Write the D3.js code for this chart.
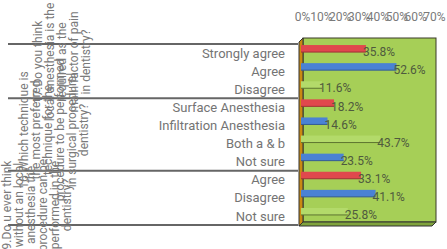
<!DOCTYPE html>
<html>
<head>
<meta charset="utf-8">
<script src="https://cdn.jsdelivr.net/npm/d3@7"></script>
<style>
    body{ margin:0; background:#fff; }
    svg{ display:block; font-family:Roboto, "Noto Sans", sans-serif; }
</style>
</head>
<body>
<svg width="447" height="249"></svg>
<script>
// data
var categories = ["Strongly agree", "Agree", "Disagree", "Surface Anesthesia", "Infiltration Anesthesia",
    "Both a & b", "Not sure", "Agree", "Disagree", "Not sure"];
var values = [35.8, 52.6, 11.6, 18.2, 14.6, 43.7, 23.5, 33.1, 41.1, 25.8];
var groupSizes = [3, 4, 3];
var groupLabels = [
    ["17.Do you think", "local anesthesia is the", "required as the", "main factor of pain", "in dentistry?"],
    ["16.Which technique is", "the most preferred", "technique for the", "procedure to be performed", "in surgical procedural", "dentistry?"],
    ["9.Do u ever think", "without an local", "anesthesia the", "procedure can be", "performed in the", "dentistry?"]
];
var tickValues = [0, 10, 20, 30, 40, 50, 60, 70];

// style
var palette = ["#e0484d", "#4a82d4", "#b3da6a"];
var colorIdx = [0, 1, 2, 0, 1, 2, 1, 0, 1, 2];

var svg = d3.select("svg");

var y = d3.scaleBand().domain(d3.range(categories.length)).range([44, 225]);
var xBar = d3.scaleLinear().domain([0, 70]).range([301, 428]);
var xAxisScale = d3.scaleLinear().domain([0, 70]).range([302, 434]);

// back wall
svg.append("rect")
    .attr("x", 303).attr("y", 38).attr("width", 133).attr("height", 184)
    .attr("fill", "#a6cf57").attr("stroke", "#3a3a2a").attr("stroke-width", 1);
// floor
svg.append("polygon")
    .attr("points", "299,226 303,222 436,222 432,226")
    .attr("fill", "#7fa33c").attr("stroke", "#333").attr("stroke-width", 1);
// left wall
svg.append("polygon")
    .attr("points", "299,42 303,38 303,222 299,226")
    .attr("fill", "#c98a12").attr("stroke", "#333").attr("stroke-width", 1);

// axis labels on top
var xAxis = d3.axisTop(xAxisScale).tickValues(tickValues)
    .tickFormat(function(d) { return d + "%"; }).tickSize(0);
var gx = svg.append("g").attr("transform", "translate(0,24)").call(xAxis);
gx.select(".domain").remove();
gx.selectAll("text").attr("fill", "#7a7a7a").style("font-size", "12px")
    .style("font-family", "Roboto, sans-serif");

// bars
var bh = 7;
svg.selectAll("rect.bar")
    .data(values)
    .enter()
    .append("rect")
    .attr("class", "bar")
    .attr("x", xBar(0))
    .attr("y", function(d, i) { return y(i) + y.bandwidth() / 2 - 4.5 - bh / 2; })
    .attr("width", function(d) { return xBar(d) - xBar(0); })
    .attr("height", bh)
    .attr("fill", function(d, i) { return palette[colorIdx[i]]; });

// darker lower edge of bars (3d look)
svg.selectAll("line.edge")
    .data(values)
    .enter()
    .append("line")
    .attr("class", "edge")
    .attr("x1", xBar(0))
    .attr("x2", function(d) { return xBar(d); })
    .attr("y1", function(d, i) { return y(i) + y.bandwidth() / 2 - 4.5 + bh / 2; })
    .attr("y2", function(d, i) { return y(i) + y.bandwidth() / 2 - 4.5 + bh / 2; })
    .attr("stroke", function(d, i) { return colorIdx[i] == 2 ? "#5e7530" : d3.color(palette[colorIdx[i]]).darker(1); })
    .attr("stroke-width", 1);

// value labels
svg.selectAll("text.val")
    .data(values)
    .enter()
    .append("text")
    .attr("class", "val")
    .attr("x", function(d) { return xBar(d) - 3; })
    .attr("y", function(d, i) { return y(i) + y.bandwidth() / 2 - 1; })
    .attr("dy", "0.35em")
    .attr("fill", "#4f5a3e")
    .style("font-size", "12px")
    .text(function(d) { return d3.format(".1f")(d) + "%"; });

// category labels
svg.selectAll("text.cat")
    .data(categories)
    .enter()
    .append("text")
    .attr("class", "cat")
    .attr("x", 285)
    .attr("y", function(d, i) { return y(i) + y.bandwidth() / 2; })
    .attr("dy", "0.35em")
    .attr("text-anchor", "end")
    .attr("fill", "#747474")
    .style("font-size", "13px")
    .text(function(d) { return d; });

// group separators + rotated group labels
var starts = [0];
groupSizes.forEach(function(s, i) { starts.push(starts[i] + s); });
var sepY = starts.map(function(s) { return s < categories.length ? y(s) : y.range()[1]; });
svg.selectAll("line.sep")
    .data(sepY)
    .enter()
    .append("line")
    .attr("x1", 8).attr("x2", 298)
    .attr("y1", function(d) { return d; }).attr("y2", function(d) { return d; })
    .attr("stroke", "#666").attr("stroke-width", 2);

var labelPos = [{cx: 62, cy: 62}, {cx: 54, cy: 130}, {cx: 37, cy: 205}];
groupLabels.forEach(function(lines, g) {
    var p = labelPos[g];
    var t = svg.append("text")
        .attr("transform", "translate(" + p.cx + "," + p.cy + ") rotate(-90)")
        .attr("text-anchor", "middle")
        .attr("fill", "#7a7a7a")
        .style("font-size", "12px");
    var n = lines.length;
    lines.forEach(function(l, k) {
        t.append("tspan")
            .attr("x", 0)
            .attr("y", (k - (n - 1) / 2) * 12)
            .attr("dy", "0.35em")
            .text(l);
    });
});
</script>
</body>
</html>
